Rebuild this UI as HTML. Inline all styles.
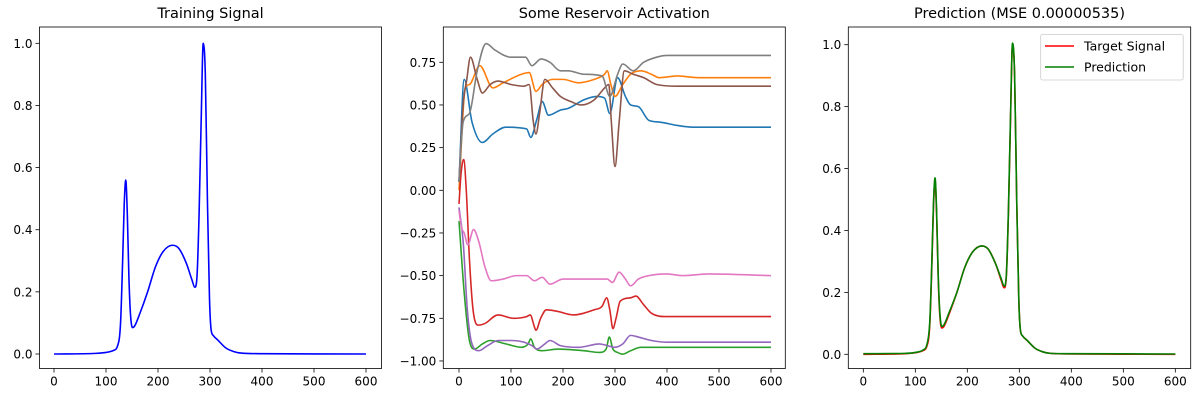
<!DOCTYPE html>
<html><head><meta charset="utf-8"><style>
body{margin:0;background:#fff}
svg{display:block;font-family:"DejaVu Sans","Liberation Sans",sans-serif}
</style></head><body>
<svg id="fig" width="1200" height="400" viewBox="0 0 1200 400"></svg>
<script>
// ---- data ----
const sigX = [0,80,100,115,122,128,132,135,138,141,144,147,151,155,165,180,195,210,228,240,255,265,271,275,279,283,287,291,295,299,302,306,315,330,345,360,400,600];
const sigY = [0,0.002,0.005,0.012,0.025,0.1,0.3,0.48,0.56,0.45,0.25,0.13,0.085,0.09,0.13,0.2,0.28,0.33,0.35,0.34,0.29,0.24,0.215,0.25,0.45,0.75,1.0,0.9,0.5,0.18,0.08,0.06,0.045,0.02,0.008,0.003,0.001,0];
const predY = [0.002,0.003,0.006,0.014,0.03,0.11,0.31,0.49,0.57,0.46,0.26,0.14,0.09,0.095,0.135,0.2,0.28,0.33,0.35,0.34,0.29,0.245,0.22,0.255,0.46,0.76,1.005,0.9,0.5,0.18,0.08,0.06,0.045,0.02,0.008,0.003,0.002,0.001];

const blueX=[0,10,25,45,65,90,130,138,150,160,172,195,210,240,265,280,290,305,320,330,345,365,385,420,450,600];
const blueY=[0.05,0.65,0.4,0.28,0.33,0.37,0.36,0.31,0.42,0.52,0.44,0.47,0.48,0.53,0.55,0.54,0.45,0.66,0.55,0.50,0.49,0.41,0.40,0.38,0.37,0.37];
const orangeX=[0,12,20,40,65,85,120,135,148,160,180,200,230,260,280,285,292,300,315,330,350,370,385,420,460,600];
const orangeY=[0,0.6,0.62,0.73,0.6,0.63,0.68,0.69,0.58,0.62,0.65,0.65,0.63,0.65,0.68,0.70,0.62,0.55,0.62,0.68,0.70,0.68,0.66,0.67,0.66,0.66];
const greenX=[0,10,20,30,45,60,90,120,133,138,145,160,190,240,270,283,289,296,305,315,330,350,600];
const greenY=[-0.18,-0.6,-0.88,-0.93,-0.9,-0.88,-0.9,-0.92,-0.9,-0.87,-0.92,-0.94,-0.93,-0.94,-0.95,-0.93,-0.86,-0.93,-0.95,-0.96,-0.94,-0.92,-0.92];
const redX=[0,4,9,14,20,27,37,50,75,105,130,137,145,148,157,168,190,220,260,275,284,290,296,302,310,330,340,355,370,400,600];
const redY=[-0.08,0.1,0.18,0.0,-0.4,-0.7,-0.79,-0.78,-0.73,-0.75,-0.74,-0.73,-0.80,-0.82,-0.75,-0.70,-0.71,-0.73,-0.70,-0.68,-0.63,-0.70,-0.81,-0.75,-0.65,-0.63,-0.62,-0.67,-0.72,-0.74,-0.74];
const purpleX=[0,8,16,25,38,55,75,100,125,140,150,165,175,195,230,270,285,300,315,330,345,370,400,600];
const purpleY=[-0.1,-0.3,-0.7,-0.9,-0.94,-0.91,-0.88,-0.88,-0.89,-0.91,-0.93,-0.9,-0.88,-0.91,-0.92,-0.9,-0.91,-0.92,-0.9,-0.85,-0.86,-0.88,-0.89,-0.89];
const brownX=[0,8,15,22,35,45,60,75,100,125,135,143,148,155,165,180,195,215,235,260,280,288,293,300,308,318,335,355,380,420,600];
const brownY=[0.05,0.5,0.65,0.78,0.65,0.57,0.62,0.64,0.62,0.61,0.62,0.40,0.33,0.45,0.65,0.60,0.55,0.52,0.50,0.53,0.60,0.62,0.40,0.14,0.40,0.70,0.68,0.66,0.62,0.61,0.61];
const pinkX=[0,5,10,17,28,38,50,62,85,110,130,145,160,175,200,250,285,295,308,320,330,345,365,400,430,480,600];
const pinkY=[-0.12,-0.22,-0.25,-0.32,-0.23,-0.30,-0.45,-0.53,-0.52,-0.50,-0.50,-0.53,-0.51,-0.55,-0.52,-0.52,-0.52,-0.54,-0.48,-0.52,-0.56,-0.52,-0.50,-0.49,-0.50,-0.49,-0.50];
const grayX=[0,8,20,35,52,70,100,128,140,158,175,195,210,240,275,290,305,315,335,355,380,400,440,600];
const grayY=[0.05,0.4,0.45,0.7,0.86,0.82,0.78,0.78,0.73,0.77,0.75,0.70,0.70,0.68,0.67,0.55,0.68,0.74,0.70,0.75,0.78,0.79,0.79,0.79];

const xTicks=[0,100,200,300,400,500,600];
const y1Ticks=[0,0.2,0.4,0.6,0.8,1.0];
const y2Ticks=[-1.0,-0.75,-0.5,-0.25,0,0.25,0.5,0.75];

// ---- drawing ----
const NS="http://www.w3.org/2000/svg";
const svg=document.getElementById('fig');
function mk(tag,attrs,parent){const e=document.createElementNS(NS,tag);for(const k in attrs)e.setAttribute(k,attrs[k]);(parent||svg).appendChild(e);return e;}

// monotone cubic path through pixel points
function smoothPath(P){
  const n=P.length;if(n<2)return '';
  const d=[],m=new Array(n);
  for(let i=0;i<n-1;i++){const dx=P[i+1][0]-P[i][0];d.push(dx?(P[i+1][1]-P[i][1])/dx:0);}
  m[0]=d[0];m[n-1]=d[n-2];
  for(let i=1;i<n-1;i++){m[i]=(d[i-1]*d[i]<=0)?0:(d[i-1]+d[i])/2;}
  for(let i=0;i<n-1;i++){
    if(d[i]===0){m[i]=0;m[i+1]=0;continue;}
    const a=m[i]/d[i],b=m[i+1]/d[i],s=a*a+b*b;
    if(s>9){const t=3/Math.sqrt(s);m[i]=t*a*d[i];m[i+1]=t*b*d[i];}
  }
  let s='M'+P[0][0].toFixed(2)+','+P[0][1].toFixed(2);
  for(let i=0;i<n-1;i++){
    const h=(P[i+1][0]-P[i][0])/3;
    s+=' C'+(P[i][0]+h).toFixed(2)+','+(P[i][1]+m[i]*h).toFixed(2)+' '+(P[i+1][0]-h).toFixed(2)+','+(P[i+1][1]-m[i+1]*h).toFixed(2)+' '+P[i+1][0].toFixed(2)+','+P[i+1][1].toFixed(2);
  }
  return s;
}

function panel(name,box,xs,ys,yTicks,yFmt,title){
  const g=mk('g',{});
  
  
  const sx=v=>xs.p0+(v-xs.v0)*(xs.p1-xs.p0)/(xs.v1-xs.v0);
  const sy=v=>ys.p0+(v-ys.v0)*(ys.p1-ys.p0)/(ys.v1-ys.v0);
  const t=mk('text',{x:(box.l+box.r)/2,y:18,'text-anchor':'middle','font-size':'14.5',fill:'#000'},g);
  t.textContent=title;
  
  
  xTicks.forEach(v=>{
    const x=sx(v);
    mk('line',{x1:x,x2:x,y1:box.b,y2:box.b+4,stroke:'#000','stroke-width':0.8},g);
    const tx=mk('text',{x:x,y:box.b+17,'text-anchor':'middle','font-size':'12',fill:'#000'},g);
    tx.textContent=v;
    
    
  });
  yTicks.forEach(v=>{
    const y=sy(v);
    mk('line',{x1:box.l-4,x2:box.l,y1:y,y2:y,stroke:'#000','stroke-width':0.8},g);
    const ty=mk('text',{x:box.l-7,y:y+4.5,'text-anchor':'end','font-size':'12',fill:'#000'},g);
    ty.textContent=yFmt(v);
    
    
  });
  const clip='c'+name;
  const cp=mk('clipPath',{id:clip},g);mk('rect',{x:box.l,y:box.t,width:box.r-box.l,height:box.b-box.t},cp);
  const lg=mk('g',{'clip-path':'url(#'+clip+')'},g);
  const line=(X,Y,color,nm)=>{
    const P=X.map((v,i)=>[sx(v),sy(Y[i])]);
    const p=mk('path',{d:smoothPath(P),fill:'none',stroke:color,'stroke-width':1.6,'stroke-linejoin':'round'},lg);
    
    
  };
  mk('rect',{x:box.l,y:box.t,width:box.r-box.l,height:box.b-box.t,fill:'none',stroke:'#000','stroke-width':0.8},g);
  return line;
}
const f1=v=>v.toFixed(1);
const f2=v=>(v<0?'\u2212':'')+Math.abs(v).toFixed(2);

const l1=panel('training-signal-panel',{l:39.5,r:381.5,t:27,b:368.5},{v0:0,v1:600,p0:54,p1:366},{v0:0,v1:1,p0:354,p1:43.3},y1Ticks,f1,'Training Signal');
l1(sigX,sigY,'#0000ff','training-signal-line');

const l2=panel('reservoir-panel',{l:443.3,r:785.3,t:27,b:368.5},{v0:0,v1:600,p0:459,p1:771},{v0:0,v1:0.75,p0:190.3,p1:62.3},y2Ticks,f2,'Some Reservoir Activation');
l2(blueX,blueY,'#1f77b4','activation-blue');
l2(orangeX,orangeY,'#ff7f0e','activation-orange');
l2(greenX,greenY,'#2ca02c','activation-green');
l2(redX,redY,'#d62728','activation-red');
l2(purpleX,purpleY,'#9467bd','activation-purple');
l2(brownX,brownY,'#8c564b','activation-brown');
l2(pinkX,pinkY,'#e377c2','activation-pink');
l2(grayX,grayY,'#7f7f7f','activation-gray');

const l3=panel('prediction-panel',{l:848.3,r:1190.7,t:27,b:368.5},{v0:0,v1:600,p0:863.3,p1:1175.3},{v0:0,v1:1,p0:354.3,p1:44.7},y1Ticks,f1,'Prediction (MSE 0.00000535)');
l3(sigX,sigY,'#ff0000','target-signal-line');
l3(sigX,predY,'#008000','prediction-line');

// legend
const lgd=mk('g',{});


mk('rect',{x:1040.7,y:34.5,width:142.5,height:45.5,rx:2,fill:'#fff','fill-opacity':0.8,stroke:'#ccc','stroke-width':0.8},lgd);
[['Target Signal','#ff0000',46],['Prediction','#008000',67]].forEach(([lab,c,y])=>{
  mk('line',{x1:1045,x2:1074,y1:y,y2:y,stroke:c,'stroke-width':1.6},lgd);
  const t=mk('text',{x:1084,y:y+4.5,'font-size':'12.5',fill:'#000'},lgd);
  t.textContent=lab;
  
  
});
</script>
</body></html>
